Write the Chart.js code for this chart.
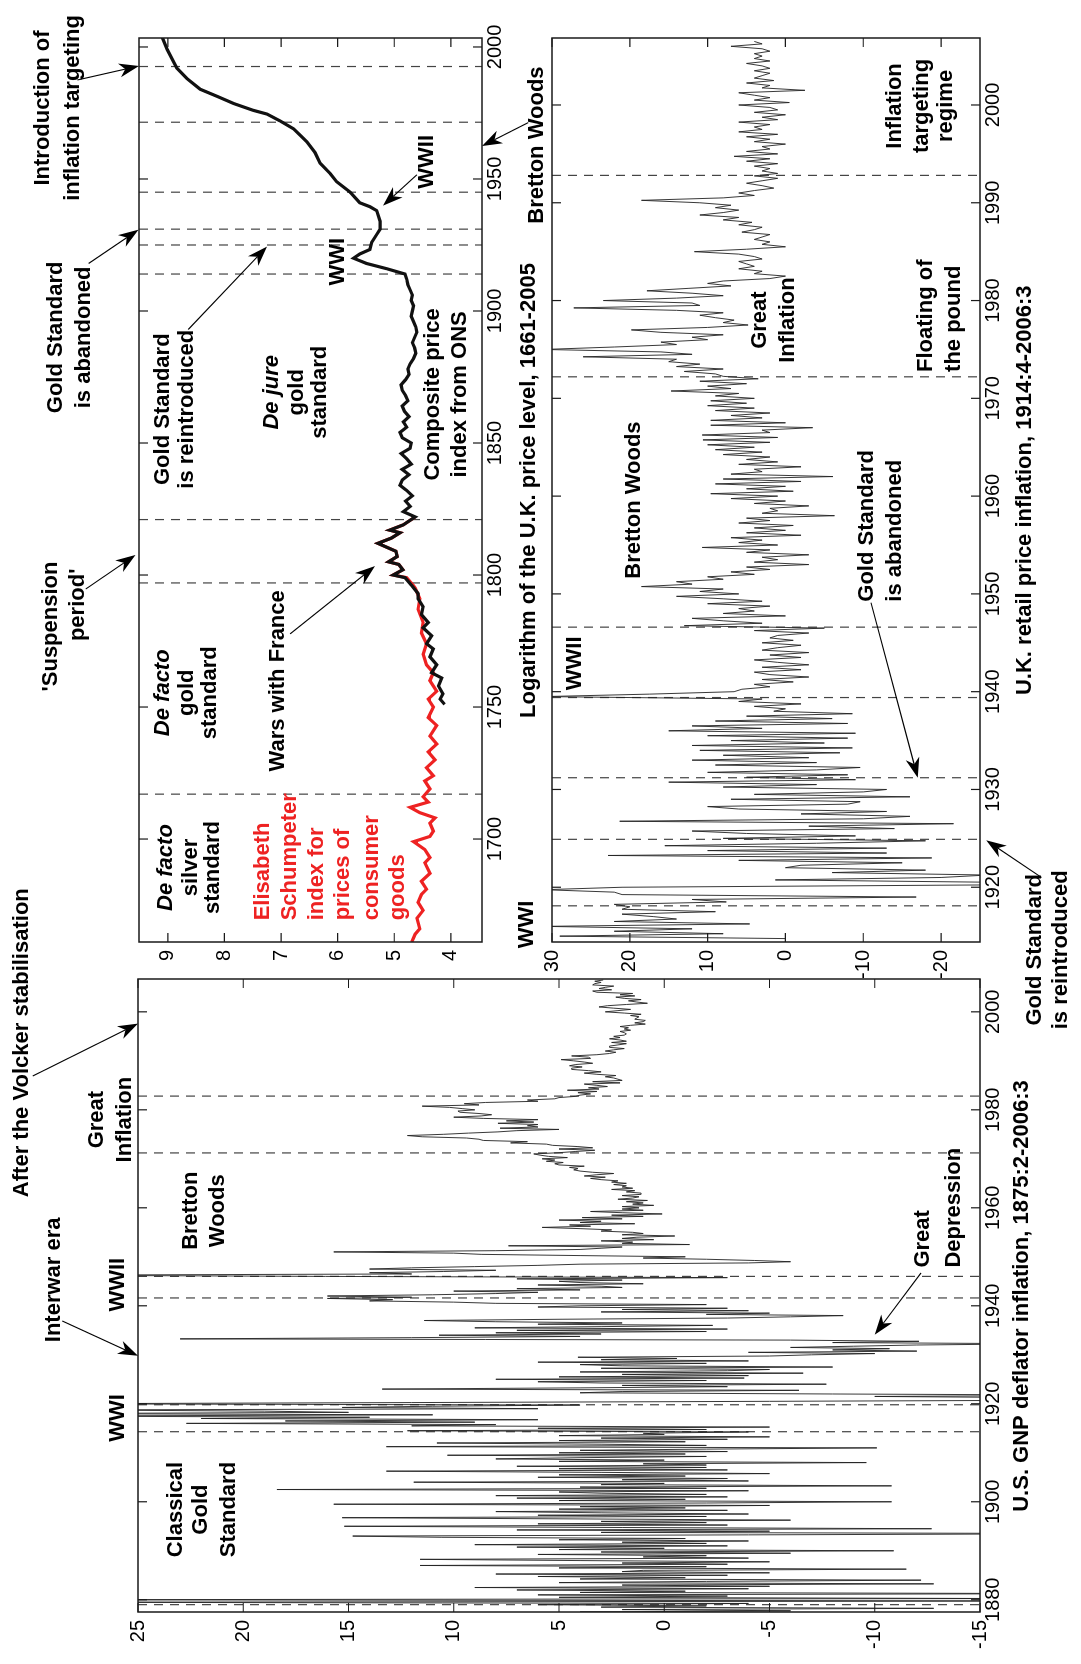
<!DOCTYPE html>
<html>
<head>
<meta charset="utf-8">
<script src="https://cdn.jsdelivr.net/npm/chart.js@4.4.1/dist/chart.umd.min.js"></script>
<style>
  html, body { margin: 0; padding: 0; background: #fff; }
  body { width: 1081px; height: 1664px; overflow: hidden; position: relative; }
  /* the figure is laid out landscape and turned a quarter turn */
  #fig { position: absolute; left: 0; top: 0; width: 1664px; height: 1081px;
         transform-origin: 0 0; transform: translate(0, 1664px) rotate(-90deg); }
  #fig canvas { position: absolute; left: 0; top: 0; }
</style>
</head>
<body>
<div id="fig">
  <canvas id="usChart" width="1664" height="1081"></canvas>
  <canvas id="priceChart" width="1664" height="1081"></canvas>
  <canvas id="ukChart" width="1664" height="1081"></canvas>
</div>
<script>
// DATA

// U.S. GNP deflator inflation, quarterly from 1875:2
const usStart = 1875.25;
const usInflation = [
  -6, 9, -11,
  4, -8, 6, -3,           // 1876
  12.1, -2, 4, -6,
  2, -12.8, 3, -2,
  6, -4, 30, -22,
  30, -16, 5, -3,         // 1880
  6, -20, 4, -1,
  7, -4, 9, -5,
  2, -12.8, 5, -2,
  -12.2, 4, -1, 6,
  -3, 8, -5, 2,           // 1885
  1, -11.5, 5, -2,
  11.6, -3, 2, -5,
  4, 11.6, -4, 1,
  -2, 6, -6, 3,
  -10.9, 5, 0, 7,         // 1890
  -3, 9, -2, 2,
  -4, 5, -1, 10.6,
  14.8, -4, -22, 3,
  -5, 7, -12.7, 2,
  15.2, -3, 6, -2,        // 1895
  3, -6, 4, 15.3,
  -2, 6, -4, 3,
  8, -3, 5, -1,
  4, -5, 15.7, -2,
  -10.8, 5, -1, 7,        // 1900
  -3, 8, -2, 3,
  5, -4, 18.4, -2,
  4, -10.8, 3, 0,
  11.9, -4, 2, -3,
  6, -1, 5, -5,           // 1905
  3, 13.2, -3, 5,
  -2, 7, -2, 1,
  -9.6, 5, 0, 8,
  4, -2, 10.3, -1,
  5, -3, 4, -2,           // 1910
  -10.1, 13.2, -2, 3,
  10.8, -1, 5, -3,
  3, -5, 5, 0,
  1, -4, 12.2, -2,
  6, -5, 12, 8,           // 1915
  22.7, 9, 18, 6,
  22, 14, 30, 11,
  30, 15, 19, 28,
  6, 15.3, 11, 4,
  30, 12, -5, -20,        // 1920
  -24, -18, -10, -22,
  -8, 4, 2, -6.4,
  13.4, 4, -3, 2,
  -7.7, 3, 6, -2,
  8, -3.8, 5, -4,         // 1925
  2, -6.6, 4, -3,
  -5, 3, -8, 2,
  4, -2, 6, -4,
  3, -0.6, 4.1, -5,
  -7, -10, -4, -12,       // 1930
  -8, -10.7, -6, -9,
  -12, -18, -8, -12.1,
  -6, 23, 12, 4,
  10.7, 3, 8, -2,
  7, -3, 9, 3,            // 1935
  -2.3, 6, 2, 8,
  11.4, 5, -3, -6,
  -8.5, -2, -5, 3,
  -4, 2, -3, 6,
  4, -2, 8, 10,           // 1940
  14, 12.9, 16, 12,
  16, 11, 8, 6,
  10, 4, 7, 2,
  3, 6, 1, 4,
  5, 2, 7, -3,            // 1945
  16.1, 30, 12, 14,
  10.5, 8, 14, 12,
  9, 6, 4, -4,
  -6, -4.3, -2, 1,
  -1, 4, 8.7, 10,         // 1950
  15.7, 8, 4, 3,
  2, 7.4, -1.2, 2,
  1.5, 3, 0.5, 2,
  1.3, -0.5, 2, 1,
  1.5, 3, 2.5, 4,         // 1955
  5.8, 3.5, 4.5, 1.4,
  4, 3, 5, 2,
  3.9, 1, 2.5, 0.1,
  2, 3.5, 1, 2,
  1.2, 2, 0.5, 1.5,       // 1960
  1, 1.8, 0.8, 2.2,
  1.5, 1.2, 2, 1.1,
  1.1, 1.8, 1.4, 2.5,
  1.5, 2, 1.8, 2.4,
  1.8, 2.5, 2.2, 3,       // 1965
  3.5, 2.8, 3.8, 3.2,
  2.4, 3.4, 4, 4.3,
  4.1, 4.5, 3.8, 5,
  5.2, 4.8, 5.6, 5.2,
  5.8, 4.6, 5.5, 5.9,     // 1970
  6.2, 5, 4.2, 3.3,
  5, 3.4, 4.1, 5.3,
  5.6, 7.3, 6.5, 8.6,
  8.8, 9.4, 11.5, 12.2,
  10.5, 9.3, 7.9, 7,      // 1975
  5, 7.8, 6, 6.5,
  6, 7.9, 6.2, 7.5,
  6, 8.6, 10, 8.7,
  8.2, 8.8, 9.7, 9.8,
  9, 9.6, 10.2, 11.5,     // 1980
  8.8, 9.5, 8.5, 6,
  6.5, 5.2, 5, 4.2,
  4, 3.5, 4.1, 3.2,
  4.6, 3.1, 3.6, 2.7,
  3.2, 3.8, 2.1, 3.4,     // 1985
  2, 2.2, 2.4, 2.8,
  2.3, 3.2, 3.8, 3,
  3.6, 4.4, 4.4, 3.9,
  4.5, 4.2, 3.4, 3.8,
  4.3, 4.9, 3.5, 3.6,     // 1990
  4.4, 3.2, 2.6, 2.3,
  2.8, 2.4, 1.9, 2.6,
  2.6, 2.2, 1.8, 2.5,
  1.8, 2.1, 2.6, 2.1,
  2.4, 1.9, 1.8, 1.9,     // 1995
  2.1, 1.6, 1.9, 1.7,
  2.1, 1.6, 0.9, 1.4,
  1, 0.9, 1.4, 1.3,
  1.2, 1.6, 1.1, 1.9,
  2.8, 2.2, 1.6, 2.4,     // 2000
  3.1, 2.7, 1.8, 0.8,
  1.3, 1.7, 1.1, 1.9,
  2.3, 1.4, 2.1, 1.5,
  3.2, 3.4, 2.5, 3.1,
  2.8, 2.4, 3.4, 3.3,     // 2005
  3, 3.3, 2.9
];
const usBreaks = [1879.0, 1914.3, 1919.8, 1941.6, 1946.0, 1971.2, 1982.8];
const usYearTicks = [1880, 1900, 1920, 1940, 1960, 1980, 2000];
const usValueTicks = [-15, -10, -5, 0, 5, 10, 15, 20, 25];

// Log of U.K. price level, Schumpeter index (red) and ONS composite (black)
const schumpeterYears = [1661, 1664, 1666, 1670, 1673, 1676, 1679, 1681, 1684, 1687, 1691, 1693, 1696, 1699, 1701,
  1703, 1706, 1708, 1710, 1712, 1714, 1716, 1719, 1722, 1724, 1727, 1730, 1733, 1736, 1739, 1743, 1746, 1750,
  1753, 1756, 1760, 1763, 1766, 1770, 1774, 1778, 1782, 1787, 1791, 1795, 1796, 1799, 1800, 1802, 1804, 1805,
  1807, 1809, 1812, 1814, 1816, 1817, 1819, 1822];
const schumpeterLog = [4.69, 4.63, 4.55, 4.60, 4.49, 4.58, 4.52, 4.43, 4.52, 4.37, 4.46, 4.37, 4.46, 4.66, 4.37,
  4.31, 4.37, 4.28, 4.55, 4.72, 4.40, 4.49, 4.37, 4.46, 4.31, 4.43, 4.28, 4.40, 4.25, 4.37, 4.25, 4.40, 4.31,
  4.40, 4.25, 4.37, 4.31, 4.43, 4.49, 4.43, 4.52, 4.49, 4.58, 4.55, 4.63, 4.66, 4.78, 5.02, 4.85, 4.92, 5.10,
  4.95, 4.97, 5.29, 5.05, 4.90, 5.08, 4.84, 4.63];
const onsYears = [1751, 1753, 1755, 1758, 1761, 1763, 1766, 1769, 1772, 1774, 1777, 1780, 1782, 1785, 1788, 1791,
  1793, 1796, 1799, 1800, 1802, 1804, 1805, 1807, 1809, 1812, 1814, 1816, 1817, 1819, 1822, 1824, 1826, 1828,
  1830, 1832, 1834, 1836, 1838, 1840, 1842, 1844, 1846, 1848, 1850, 1852, 1854, 1856, 1858, 1860, 1862, 1864,
  1866, 1868, 1870, 1872, 1874, 1876, 1878, 1880, 1882, 1884, 1886, 1888, 1890, 1892, 1894, 1896, 1898, 1900,
  1902, 1904, 1906, 1908, 1910, 1912, 1914, 1916, 1918, 1920, 1921.6, 1923.3, 1926, 1929, 1931, 1934, 1938,
  1939.5, 1941, 1945, 1949, 1952, 1956, 1960, 1964, 1966.5, 1969, 1972, 1974.6, 1976, 1978.6, 1981.3, 1984,
  1988, 1992, 1999, 2003.6, 2005];
const onsLog = [4.11, 4.19, 4.14, 4.22, 4.16, 4.34, 4.25, 4.37, 4.31, 4.43, 4.34, 4.49, 4.40, 4.52, 4.49, 4.58,
  4.58, 4.69, 4.81, 5.02, 4.85, 4.92, 5.10, 4.95, 4.97, 5.29, 5.05, 4.90, 5.08, 4.84, 4.63, 4.84, 4.72, 4.80,
  4.68, 4.78, 4.90, 4.86, 4.74, 4.86, 4.70, 4.78, 4.88, 4.72, 4.70, 4.86, 4.90, 4.78, 4.84, 4.74, 4.82, 4.86,
  4.76, 4.80, 4.86, 4.88, 4.80, 4.74, 4.76, 4.72, 4.66, 4.62, 4.64, 4.68, 4.64, 4.60, 4.62, 4.66, 4.70, 4.68,
  4.66, 4.70, 4.68, 4.72, 4.76, 4.78, 4.81, 5.13, 5.49, 5.72, 5.61, 5.43, 5.40, 5.31, 5.25, 5.25, 5.31,
  5.43, 5.61, 5.78, 6.02, 6.13, 6.31, 6.40, 6.54, 6.66, 6.78, 7.02, 7.25, 7.49, 7.84, 8.13, 8.43,
  8.66, 8.84, 9.01, 9.10, 9.13];
const priceBreaks = [1717, 1797, 1821, 1914, 1925, 1931, 1945, 1971.5, 1992.6];
const priceYearTicks = [1700, 1750, 1800, 1850, 1900, 1950, 2000];
const priceValueTicks = [4, 5, 6, 7, 8, 9];

// U.K. retail price inflation, quarterly from 1914:4
const ukStart = 1914.75;
const ukInflation = [
  0,
  29, 8, 22, 12,          // 1915
  31, 4.6, 22, 14,
  17, 21, 9, 21,
  20, 22, 7.6, 12,
  -16.8, 21, 22, 31,
  21, -28, -28, 1.3,      // 1920
  -20, -26, -6, -18,
  0, -2, -15, 6,
  -18.8, 22.8, -13, 10,
  -13, 15.5, -4, -18,
  8, -9, 5, 12,           // 1925
  -14, -3, -21.6, 21.3,
  -10, -16, -2, -13,
  6, 10, -8, -9.6,
  7, -16, 4, -10,
  -13, 8, -4, 15,         // 1930
  -9, 5, -8, 10,
  -4, -9.6, 9, -4,
  12, -3, 8, -7,
  11, -8.6, 12, -5,
  7, -8, 10, -9,          // 1935
  15, 3, 12, -8,
  9, -6, 5, -8.6,
  1.5, 0, 4, -2,
  6, 3, 31, 17.5,
  6.6, 5.6, 2, 4,         // 1940
  -1, 3, -3, 2,
  4, -2, 3, -3,
  1, 4, -2, 2,
  -3, 3, 1, -2,
  3, -1, 2, 1,            // 1945
  -3, 4, -5, 13,
  3, 8, 12, 0,
  8, 4, 6, 2,
  10, 3, 8, 14,
  6, 11, 8, 18.5,         // 1950
  12, 14, 8, 10,
  4, 7, 2, 5,
  -3, 4, 1, 3,
  -3, 5, 2, 10.7,
  1, 6, 3, 7,             // 1955
  -2, 5, 0, 4,
  -1, 6, 2, 5,
  -6.3, 3, 1, 2,
  -3, 4, 0, 7,
  1, 9.6, -1, 5,          // 1960
  0, 9, -2, 8,
  -6.1, 7, 3, 4,
  -2, 6, 1, 5,
  2, 8, 3, 9,
  4, 10, 2, 10.6,         // 1965
  1, 10.7, 2, 3,
  -3.5, 9.6, 0, 9.6,
  3, 7, 2, 9,
  4, 10, 5, 9.6,
  4, 9, 6, 14.7,          // 1970
  7, 10, 5, 11,
  3.5, 8, 9, 13,
  8, 14, 11, 15,
  14, 26, 12, 16,
  31, 22, 14, 16,         // 1975
  10, 12, 8, 16,
  19.8, 10, 4.8, 8,
  6.6, 9, 11, 8,
  14, 27.2, 11, 12,
  23.4, 14, 8, 12,        // 1980
  17.8, 12.4, 7, 10,
  8, 2, 0, 4,
  3, 6, 4, 5,
  6, 3, 4, 6,
  11.7, 5, 0, 3,          // 1985
  2, 4, 3, 2,
  5.6, 4, 3, 6,
  4.3, 8, 6, 11,
  8, 6, 9, 7,
  11, 18.5, 8, 4,         // 1990
  6, 4, 1.5, 3,
  5, 3, 1, 4,
  1, 3, 2, 4,
  1, 5, 2, 6.6,
  1, 5, 2, 3,             // 1995
  0, 4, 2, 5,
  1, 6, 3, 4,
  2, 6, 1, 3,
  0, 4, 1, 2,
  6, -0.5, 4, 2,          // 2000
  4, 6, -2.5, 3,
  2, 5, 1.5, 4,
  3, 2, 4, 2,
  3, 5, 2, 4,
  3, 4, 2, 3,             // 2005
  7, 3, 4
];
const ukBreaks = [1918.1, 1924.9, 1931.2, 1939.4, 1946.6, 1972.2, 1992.8];
const ukYearTicks = [1920, 1930, 1940, 1950, 1960, 1970, 1980, 1990, 2000];
const ukValueTicks = [-20, -10, 0, 10, 20, 30];


// DRAWING HELPERS

const FONT = '"Liberation Sans", Arial, Helvetica, sans-serif';

function drawArrow (ctx, x0, y0, x1, y1) {
  const ang = Math.atan2(y1 - y0, x1 - x0);
  const c = Math.cos(ang), s = Math.sin(ang);
  const L = 20, W = 7;
  ctx.beginPath();
  ctx.moveTo(x0, y0);
  ctx.lineTo(x1 - c * L * 0.7, y1 - s * L * 0.7);
  ctx.stroke();
  ctx.beginPath();
  ctx.moveTo(x1, y1);
  ctx.lineTo(x1 - c * L + s * W, y1 - s * L - c * W);
  ctx.lineTo(x1 - c * L * 0.7, y1 - s * L * 0.7);
  ctx.lineTo(x1 - c * L - s * W, y1 - s * L + c * W);
  ctx.closePath();
  ctx.fill();
}

const figureExtras = {
  id: 'figureExtras',
  beforeDatasetsDraw (chart, args, opts) {
    const { ctx, chartArea: a } = chart;
    const xs = chart.scales.x;
    ctx.save();
    ctx.strokeStyle = '#444';
    ctx.lineWidth = 1.2;
    ctx.setLineDash([9, 7]);
    (opts.breaks || []).forEach(yr => {
      const px = xs.getPixelForValue(yr);
      ctx.beginPath();
      ctx.moveTo(px, a.top);
      ctx.lineTo(px, a.bottom);
      ctx.stroke();
    });
    ctx.restore();
  },
  afterDraw (chart, args, opts) {
    const { ctx, chartArea: a } = chart;
    const xs = chart.scales.x, ys = chart.scales.y;
    ctx.save();
    // box
    ctx.strokeStyle = '#1a1a1a';
    ctx.lineWidth = 1.5;
    ctx.strokeRect(a.left, a.top, a.right - a.left, a.bottom - a.top);
    // inward ticks on all four sides
    const tl = 9;
    ctx.lineWidth = 1.2;
    ctx.beginPath();
    xs.ticks.forEach(t => {
      const px = xs.getPixelForValue(t.value);
      ctx.moveTo(px, a.bottom); ctx.lineTo(px, a.bottom - tl);
      ctx.moveTo(px, a.top); ctx.lineTo(px, a.top + tl);
    });
    ys.ticks.forEach(t => {
      const py = ys.getPixelForValue(t.value);
      ctx.moveTo(a.left, py); ctx.lineTo(a.left + tl, py);
      ctx.moveTo(a.right, py); ctx.lineTo(a.right - tl, py);
    });
    ctx.stroke();
    // arrows
    ctx.strokeStyle = '#000';
    ctx.fillStyle = '#000';
    ctx.lineWidth = 1.1;
    (opts.arrows || []).forEach(ar => {
      drawArrow(ctx,
        xs.getPixelForValue(ar.from[0]), ys.getPixelForValue(ar.from[1]),
        xs.getPixelForValue(ar.to[0]), ys.getPixelForValue(ar.to[1]));
    });
    // labels
    ctx.textBaseline = 'middle';
    (opts.texts || []).forEach(tx => {
      ctx.font = (tx.italic ? 'italic ' : '') + 'bold ' + (tx.size || 22) + 'px ' + FONT;
      ctx.fillStyle = tx.color || '#000';
      ctx.textAlign = tx.align || 'center';
      ctx.fillText(tx.t, xs.getPixelForValue(tx.x), ys.getPixelForValue(tx.y));
    });
    ctx.restore();
  }
};
Chart.register(figureExtras);

function axis (min, max, tickList, size, isX, pad) {
  return {
    type: 'linear',
    bounds: 'data',
    min: min,
    max: max,
    afterFit: s => { if (isX) { s.height = size } else { s.width = size } },
    afterBuildTicks: s => { s.ticks = tickList.map(v => ({ value: v })) },
    ticks: {
      callback: v => String(v),
      font: { family: FONT, size: 20 },
      color: '#000',
      padding: pad,
      maxRotation: 0,
      autoSkip: false
    },
    grid: { display: false, drawTicks: false },
    border: { display: false }
  };
}

function makeChart (id, datasets, cfg) {
  return new Chart(document.getElementById(id), {
    type: 'line',
    data: { datasets: datasets },
    options: {
      responsive: false,
      animation: false,
      events: [],
      layout: { padding: cfg.padding },
      elements: { point: { radius: 0 }, line: { tension: 0 } },
      plugins: {
        legend: { display: false },
        tooltip: { enabled: false },
        figureExtras: cfg.extras
      },
      scales: {
        x: axis(cfg.xMin, cfg.xMax, cfg.xTicks, cfg.xAxisHeight, true, 1),
        y: axis(cfg.yMin, cfg.yMax, cfg.yTicks, cfg.yAxisWidth, false, 8)
      }
    }
  });
}


// U.S. PANEL

const usChart = makeChart('usChart', [{
    data: usInflation.map((v, i) => ({ x: usStart + i / 4, y: v })),
    borderColor: '#222',
    borderWidth: 0.9
  }], {
  padding: { left: 0, top: 138, right: 979, bottom: 0 },
  xMin: 1877.5, xMax: 2006.7, xTicks: usYearTicks, xAxisHeight: 101,
  yMin: -15, yMax: 25, yTicks: usValueTicks, yAxisWidth: 52,
  extras: {
    breaks: usBreaks,
    texts: [
      { x: 1993.7, y: 30.5, t: 'After the Volcker stabilisation' },
      { x: 1978, y: 26.95, t: 'Great' },
      { x: 1978, y: 25.62, t: 'Inflation' },
      { x: 1945.3, y: 29.0, t: 'Interwar era' },
      { x: 1944.3, y: 25.95, t: 'WWII' },
      { x: 1917.1, y: 25.95, t: 'WWI' },
      { x: 1959.4, y: 22.5, t: 'Bretton' },
      { x: 1959.4, y: 21.2, t: 'Woods' },
      { x: 1898.4, y: 23.2, t: 'Classical' },
      { x: 1898.4, y: 22.0, t: 'Gold' },
      { x: 1898.4, y: 20.7, t: 'Standard' },
      { x: 1947.8, y: -12.3, t: 'Great', align: 'left' },
      { x: 1947.8, y: -13.75, t: 'Depression', align: 'left' },
      { x: 1942, y: -17.0, t: 'U.S. GNP deflator inflation, 1875:2-2006:3' }
    ],
    arrows: [
      { from: [1986.9, 30.0], to: [1997.6, 25] },
      { from: [1936.9, 28.6], to: [1929.8, 25] },
      { from: [1946.7, -12.2], to: [1934.1, -10.0] }
    ]
  }
});


// U.K. PRICE LEVEL PANEL

const priceChart = makeChart('priceChart', [{
    data: onsYears.map((yr, i) => ({ x: yr, y: onsLog[i] })),
    borderColor: '#111',
    borderWidth: 3.2
  }, {
    data: schumpeterYears.map((yr, i) => ({ x: yr, y: schumpeterLog[i] })),
    borderColor: '#ee2222',
    borderWidth: 3.2
  }], {
  padding: { left: 690, top: 139, right: 38, bottom: 0 },
  xMin: 1661, xMax: 2003.4, xTicks: priceYearTicks, xAxisHeight: 599,
  yMin: 3.45, yMax: 9.51, yTicks: priceValueTicks, yAxisWidth: 32,
  extras: {
    breaks: priceBreaks,
    texts: [
      { x: 1976.9, y: 11.20, t: 'Introduction of' },
      { x: 1976.9, y: 10.68, t: 'inflation targeting' },
      { x: 1890, y: 10.98, t: 'Gold Standard' },
      { x: 1890, y: 10.49, t: 'is abandoned' },
      { x: 1862.8, y: 9.08, t: 'Gold Standard' },
      { x: 1862.8, y: 8.66, t: 'is reintroduced' },
      { x: 1956.5, y: 4.42, t: 'WWII' },
      { x: 1918.7, y: 5.99, t: 'WWI' },
      { x: 1869.2, y: 7.16, t: 'De jure', italic: true },
      { x: 1869.2, y: 6.72, t: 'gold' },
      { x: 1869.2, y: 6.31, t: 'standard' },
      { x: 1868.4, y: 4.32, t: 'Composite price' },
      { x: 1868.4, y: 3.84, t: 'index from ONS' },
      { x: 1780.5, y: 11.07, t: '\'Suspension' },
      { x: 1788.7, y: 10.58, t: 'period\'' },
      { x: 1755.4, y: 9.08, t: 'De facto', italic: true },
      { x: 1755.4, y: 8.66, t: 'gold' },
      { x: 1755.4, y: 8.25, t: 'standard' },
      { x: 1759.9, y: 7.05, t: 'Wars with France' },
      { x: 1689.2, y: 9.04, t: 'De facto', italic: true },
      { x: 1689.2, y: 8.60, t: 'silver' },
      { x: 1689.2, y: 8.20, t: 'standard' },
      { x: 1669.2, y: 7.32, t: 'Elisabeth', align: 'left', color: '#ee2222' },
      { x: 1669.2, y: 6.84, t: 'Schumpeter', align: 'left', color: '#ee2222' },
      { x: 1669.2, y: 6.36, t: 'index for', align: 'left', color: '#ee2222' },
      { x: 1669.2, y: 5.90, t: 'prices of', align: 'left', color: '#ee2222' },
      { x: 1669.2, y: 5.39, t: 'consumer', align: 'left', color: '#ee2222' },
      { x: 1669.2, y: 4.93, t: 'goods', align: 'left', color: '#ee2222' },
      { x: 1832, y: 2.62, t: 'Logarithm of the U.K. price level, 1661-2005' }
    ],
    arrows: [
      { from: [1987.5, 10.60], to: [1992.8, 9.51] },
      { from: [1918, 10.40], to: [1930.8, 9.52] },
      { from: [1893, 8.64], to: [1924.4, 7.25] },
      { from: [1951.6, 4.60], to: [1939.9, 5.20] },
      { from: [1794.7, 10.45], to: [1807.6, 9.57] },
      { from: [1777.7, 6.84], to: [1803.4, 5.34] }
    ]
  }
});


// U.K. INFLATION PANEL

const ukChart = makeChart('ukChart', [{
    data: ukInflation.map((v, i) => ({ x: ukStart + i / 4, y: v })),
    borderColor: '#222',
    borderWidth: 0.9
  }], {
  padding: { left: 682, top: 552, right: 38, bottom: 0 },
  xMin: 1914.4, xMax: 2006.85, xTicks: ukYearTicks, xAxisHeight: 101,
  yMin: -25, yMax: 30, yTicks: ukValueTicks, yAxisWidth: 40,
  extras: {
    breaks: ukBreaks,
    texts: [
      { x: 1995.9, y: 31.9, t: 'Bretton Woods' },
      { x: 1999.9, y: -14.1, t: 'Inflation' },
      { x: 1999.9, y: -17.6, t: 'targeting' },
      { x: 1999.9, y: -20.6, t: 'regime' },
      { x: 1972.7, y: -18.1, t: 'Floating of', align: 'left' },
      { x: 1972.7, y: -21.7, t: 'the pound', align: 'left' },
      { x: 1978, y: 3.26, t: 'Great' },
      { x: 1978, y: -0.33, t: 'Inflation' },
      { x: 1959.6, y: 19.5, t: 'Bretton Woods' },
      { x: 1942.9, y: 27.0, t: 'WWII' },
      { x: 1949.2, y: -10.5, t: 'Gold Standard', align: 'left' },
      { x: 1949.2, y: -14.1, t: 'is abandoned', align: 'left' },
      { x: 1913.6, y: -32.1, t: 'Gold Standard' },
      { x: 1913.6, y: -35.4, t: 'is reintroduced' },
      { x: 1916.2, y: 33.2, t: 'WWI' },
      { x: 1960.6, y: -30.8, t: 'U.K. retail price inflation, 1914:4-2006:3' }
    ],
    arrows: [
      { from: [1998.2, 33.05], to: [1995.8, 39.0] },
      { from: [1949.1, -11.0], to: [1931.2, -17.0] },
      { from: [1921.0, -32.9], to: [1924.8, -25.8] }
    ]
  }
});
</script>
</body>
</html>
